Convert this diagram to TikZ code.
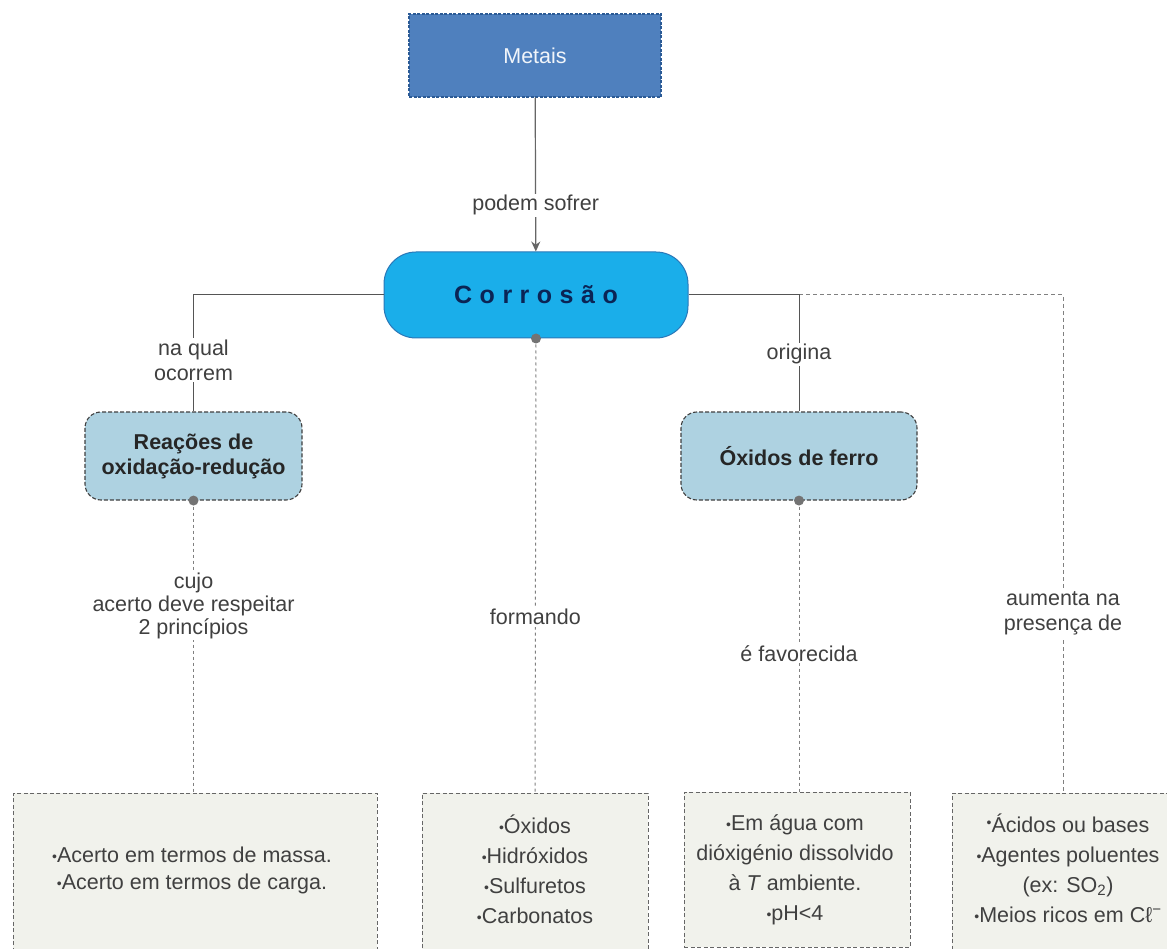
\documentclass[tikz,border=0pt]{standalone}
\usepackage{fontspec}
\setmainfont{Liberation Sans}
\usetikzlibrary{arrows.meta}
\definecolor{metfill}{HTML}{4F80BE}
\definecolor{metborder}{HTML}{2B5A95}
\definecolor{corfill}{HTML}{1AAEEA}
\definecolor{corborder}{HTML}{2A78B8}
\definecolor{cortext}{HTML}{0B2455}
\definecolor{reafill}{HTML}{AED2E1}
\definecolor{botfill}{HTML}{F1F2EC}
\definecolor{labelc}{HTML}{404040}
\definecolor{linec}{HTML}{555555}
\definecolor{dashc}{HTML}{808080}
\newcommand\lbfont{\fontsize{21.5}{25}\selectfont}
\newcommand\lsp{\hspace{0.3em}}
\newcommand\bul{\raisebox{1pt}{\fontsize{14}{14}\selectfont\textbullet}}
\tikzset{
  lbl/.style={fill=white, text=labelc, font=\lbfont, align=center, inner sep=1.5pt},
  metbox/.style={draw=metborder, dash pattern=on 3pt off 1.5pt, line width=1.2pt, fill=metfill,
     minimum width=252pt, minimum height=83pt, text=white!92!metfill, font=\lbfont},
  corbox/.style={draw=corborder, line width=1pt, fill=corfill, rounded corners=32pt,
     minimum width=304pt, minimum height=86pt, text=cortext, font=\fontsize{25}{25}\selectfont\bfseries},
  conbox/.style={draw=black!75, dash pattern=on 4pt off 2pt, line width=1.1pt, fill=reafill,
     rounded corners=16pt, minimum height=88pt, align=center, text=black!85,
     font=\fontsize{21.5}{25}\selectfont\bfseries},
  botbox/.style={draw=black!60, dash pattern=on 4pt off 2.5pt, line width=0.9pt, fill=botfill, anchor=north},
  bottxt/.style={align=center, text=labelc, font=\fontsize{21.5}{30}\selectfont, inner sep=0pt},
  solidln/.style={draw=linec, line width=1pt},
  dashln/.style={draw=dashc, line width=1pt, dash pattern=on 4pt off 3pt},
  dotln/.style={draw=dashc, line width=1pt, dash pattern=on 3pt off 3pt},
  arr/.style={draw=dashc!80!black, line width=1.2pt, -{Stealth[length=10pt,width=9pt]}},
  pin/.style={fill=black!55}
}
\begin{document}
\begin{tikzpicture}[x=1pt,y=-1pt]
\useasboundingbox (0,0) rectangle (1167,949);
\clip (0,0) rectangle (1167,949);
\fill[white] (0,0) rectangle (1167,949);

% main nodes
\node[metbox] (metais) at (535,55.5) {Metais};
\node[corbox] (cor) at (536,295) {C\lsp o\lsp r\lsp r\lsp o\lsp s\lsp ã\lsp o};
\node[conbox, minimum width=217pt] (rea) at (193.5,456) {Reações de\\oxidação-redução};
\node[conbox, minimum width=236pt] (oxi) at (799,456) {Óxidos de ferro};

% bottom boxes
\node[botbox, minimum width=364pt, minimum height=190pt] (b1) at (195,793) {};
\node[botbox, minimum width=226pt, minimum height=190pt] (b2) at (535,793) {};
\node[botbox, minimum width=226pt, minimum height=155pt] (b3) at (797,792) {};
\node[botbox, minimum width=222pt, minimum height=190pt] (b4) at (1063,793) {};

\node[bottxt] (t1) at (192,870.5) {\bul Acerto em termos de massa.\\[-3pt] \bul Acerto em termos de carga.};
\node[bottxt] (t2) at (535,869) {\bul Óxidos\\ \bul Hidróxidos\\ \bul Sulfuretos\\ \bul Carbonatos};
\node[bottxt] (t3) at (795,869.5) {\bul Em água com\\ dióxigénio dissolvido\\ à \textit{T} ambiente.\\ \bul pH<4};
\node[bottxt] (t4) at (1068,868) {\raisebox{4pt}{\bul}Ácidos ou bases\\ \bul Agentes poluentes\\ (ex: SO\textsubscript{2})\\ \bul Meios ricos em Cℓ\textsuperscript{−}};

% connectors
\draw[arr] (metais) -- (cor) node[lbl, pos=0.70] {podem sofrer};
\coordinate (split) at (oxi.north |- cor.east);
\draw[dashln] (split) -| (b4.north) node[lbl, pos=0.82] {aumenta na\\presença de};
\draw[solidln] (cor.west) -| (rea.north) node[lbl, pos=0.78] {na qual\\ocorrem};
\draw[solidln] (cor.east) -| (oxi.north) node[lbl, pos=0.755] {origina};
\draw[dotln] (cor.south) -- (b2.north) node[lbl, pos=0.613] {formando};
\draw[dotln] (rea.south) -- (b1.north -| rea.south) node[lbl, pos=0.36, font=\fontsize{21.5}{23}\selectfont] {cujo\\acerto deve respeitar\\2 princípios};
\draw[dotln] (oxi.south) -- (b3.north -| oxi.south) node[lbl, pos=0.524] {é favorecida};

\fill[pin] (cor.south) circle (5pt);
\fill[pin] (rea.south) circle (5pt);
\fill[pin] (oxi.south) circle (5pt);
\end{tikzpicture}
\end{document}
